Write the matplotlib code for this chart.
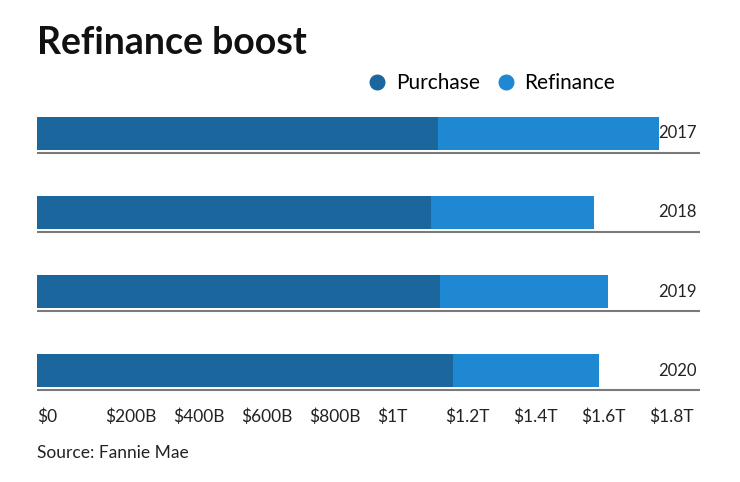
import matplotlib.pyplot as plt
from matplotlib.lines import Line2D

plt.rcParams['font.family'] = ['Lato', 'DejaVu Sans']

# values in billions of dollars
years = ['2017', '2018', '2019', '2020']
purchase = [1178, 1160, 1185, 1224]
refinance = [651, 477, 495, 429]
tick_vals = [0, 200, 400, 600, 800, 1000, 1200, 1400, 1600, 1800]
tick_labels = ['$0', '$200B', '$400B', '$600B', '$800B', '$1T',
               '$1.2T', '$1.4T', '$1.6T', '$1.8T']

c_purchase = '#1b679d'
c_refi = '#1e88d2'

W, H = 740, 482
fig = plt.figure(figsize=(W / 100, H / 100), dpi=100)
# axes placed in pixel terms
left, right, top, bottom = 37, 700, 112, 392
ax = fig.add_axes([left / W, 1 - bottom / H, (right - left) / W, (bottom - top) / H])

ypos = list(range(len(years)))
bar_h = 33 / 79
ax.barh(ypos, purchase, height=bar_h, color=c_purchase, label='Purchase')
ax.barh(ypos, refinance, left=purchase, height=bar_h, color=c_refi, label='Refinance')

for y, yr in zip(ypos, years):
    ax.axhline(y + 0.25, color='#7a7a7a', lw=1.5, zorder=3)
    ax.text(1941, y, yr, ha='right', va='center', fontsize=12, color='#222222')

ax.set_xlim(0, (right - left) / 0.34)
ax.set_ylim(3.272, -0.272)
ax.set_yticks([])
ax.set_xticks(tick_vals)
ax.set_xticklabels(tick_labels, ha='left', fontsize=12.5, color='#222222')
ax.tick_params(axis='x', length=0, pad=12)
for s in ax.spines.values():
    s.set_visible(False)

fig.text(left / W, 1 - 43 / H, 'Refinance boost', fontsize=27, fontweight='bold',
         va='center', ha='left', color='#111111')
fig.text(left / W, 1 - 453 / H, 'Source: Fannie Mae', fontsize=12.5,
         va='center', ha='left', color='#222222')

handles = [Line2D([], [], marker='o', ls='', ms=10.5, color=c_purchase),
           Line2D([], [], marker='o', ls='', ms=10.5, color=c_refi)]
fig.legend(handles, ['Purchase', 'Refinance'], loc='center',
           bbox_to_anchor=(491 / W, 1 - 83 / H), ncol=2, frameon=False,
           fontsize=15, handletextpad=0.4, columnspacing=0.75, handlelength=1.0)

fig.savefig('out.png', dpi=100)
